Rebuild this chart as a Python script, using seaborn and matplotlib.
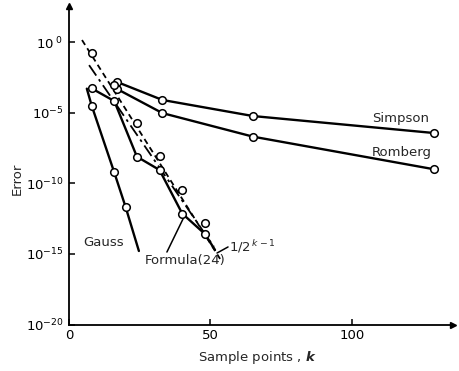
import matplotlib
matplotlib.use("Agg")
import numpy as np
import pandas as pd
import seaborn as sns
import matplotlib.pyplot as plt
from matplotlib.ticker import NullLocator, FixedLocator

# ---- data ----
simpson_k = [17, 33, 65, 129]
simpson_err = [1.48e-3, 7.9e-5, 5.75e-6, 3.6e-7]

romberg_k = [17, 33, 65, 129]
romberg_err = [4.7e-4, 9.3e-6, 2.0e-7, 9.8e-10]

gauss_k = [6.3, 8, 16, 20, 24.7]
gauss_err = [5.0e-4, 3.2e-5, 5.8e-10, 2.1e-12, 1.6e-15]
gauss_mark = [False, True, True, True, False]

formula_k = [8, 16, 24, 32, 40, 48, 51.6]
formula_err = [5.2e-4, 6.6e-5, 7.6e-9, 8.7e-10, 7.2e-13, 2.6e-14, 1.9e-15]
formula_mark = [True, True, True, True, True, True, False]

upper_k = [8, 16, 24, 32, 40, 48]
upper_err = [0.166, 9.8e-4, 2.0e-6, 9.1e-9, 3.3e-11, 1.66e-13]

dashdot_k = [7.1, 51.2]
dashdot_err = [2.3e-2, 3.2e-15]

ref_k = [4.6, 53.4]
ref_err = [1.38, 4.4e-16]

y_ticks = [1e0, 1e-5, 1e-10, 1e-15, 1e-20]
y_ticklabels = [r"$10^{\ 0}$", r"$10^{-5}$", r"$10^{-10}$", r"$10^{-15}$", r"$10^{-20}$"]
x_ticks = [0, 50, 100]

# ---- figure ----
sns.set_theme(style="ticks")
plt.rcParams["font.family"] = ["DejaVu Sans"]
plt.rcParams["mathtext.fontset"] = "dejavusans"

fig = plt.figure(figsize=(4.6, 3.71), dpi=100)
W, H = 460, 371
ax = fig.add_axes([69 / W, (H - 324.5) / H, (453 - 69) / W, (324.5 - 6) / H])
ax.set_yscale("log")

lw = 1.7
def line(k, e, **kw):
    sns.lineplot(x=k, y=e, ax=ax, color="black", estimator=None, sort=False,
                 legend=False, **kw)

def marks(k, e):
    sns.scatterplot(x=k, y=e, ax=ax, marker="o", s=30, facecolor="white",
                    edgecolor="black", linewidth=1.1, zorder=5, legend=False)

line(simpson_k, simpson_err, lw=lw)
line(romberg_k, romberg_err, lw=lw)
line(gauss_k, gauss_err, lw=lw)
line(formula_k, formula_err, lw=lw)
line(dashdot_k, dashdot_err, lw=1.3, linestyle=(0, (7, 2.5, 1.5, 2.5)))
line(ref_k, ref_err, lw=1.3, linestyle=(0, (3.2, 2.2)))

marks(simpson_k, simpson_err)
marks(romberg_k, romberg_err)
marks([k for k, m in zip(gauss_k, gauss_mark) if m],
      [e for e, m in zip(gauss_err, gauss_mark) if m])
marks([k for k, m in zip(formula_k, formula_mark) if m],
      [e for e, m in zip(formula_err, formula_mark) if m])
marks(upper_k, upper_err)

ax.set_xlim(0, 135.7)
ax.set_ylim(1e-20, 10 ** 2.55)
ax.yaxis.set_major_locator(FixedLocator(y_ticks))
ax.yaxis.set_minor_locator(NullLocator())
ax.set_yticklabels(y_ticklabels)
ax.set_xticks(x_ticks)
ax.set_xticklabels([str(t) for t in x_ticks])
ax.tick_params(direction="in", length=4, width=1.1, labelsize=9.5, color="black",
               labelcolor="black", pad=3)
ax.tick_params(axis="y", pad=4)
for s in ["top", "right"]:
    ax.spines[s].set_visible(False)
for s in ["left", "bottom"]:
    ax.spines[s].set_linewidth(1.3)
    ax.spines[s].set_color("black")
ax.set_xlabel("")
ax.set_ylabel("")

# axis arrows
ax.plot(0, 1, marker="^", color="black", ms=5, transform=ax.transAxes, clip_on=False)
ax.plot(1, 0, marker=">", color="black", ms=5, transform=ax.transAxes, clip_on=False)

fs = 9.5
ax.text(117.3, 10 ** -5.38, "Simpson", fontsize=fs, ha="center", va="center")
ax.text(117.7, 10 ** -7.79, "Romberg", fontsize=fs, ha="center", va="center")
ax.text(12.2, 10 ** -14.16, "Gauss", fontsize=fs, ha="center", va="center")
ax.text(41.0, 10 ** -15.5, "Formula(24)", fontsize=fs, ha="center", va="center")
ax.annotate("", xy=(40.6, 10 ** -12.4), xytext=(34.6, 10 ** -14.87),
            arrowprops=dict(arrowstyle="-", color="black", lw=1.1,
                            shrinkA=0, shrinkB=0))
ax.text(56.6, 10 ** -14.45, r"$1/2^{\,k-1}$", fontsize=fs, ha="left", va="center")
ax.annotate("", xy=(52.3, 10 ** -14.94), xytext=(56.2, 10 ** -14.51),
            arrowprops=dict(arrowstyle="-", color="black", lw=1.1,
                            shrinkA=0, shrinkB=0))

fig.text(17 / W, 1 - 179 / H, "Error", rotation=90, fontsize=fs,
         ha="center", va="center")
fig.text(257 / W, 1 - 358 / H, r"Sample points , $\boldsymbol{k}$", fontsize=fs,
         ha="center", va="center")

fig.savefig("out.png", dpi=100)
